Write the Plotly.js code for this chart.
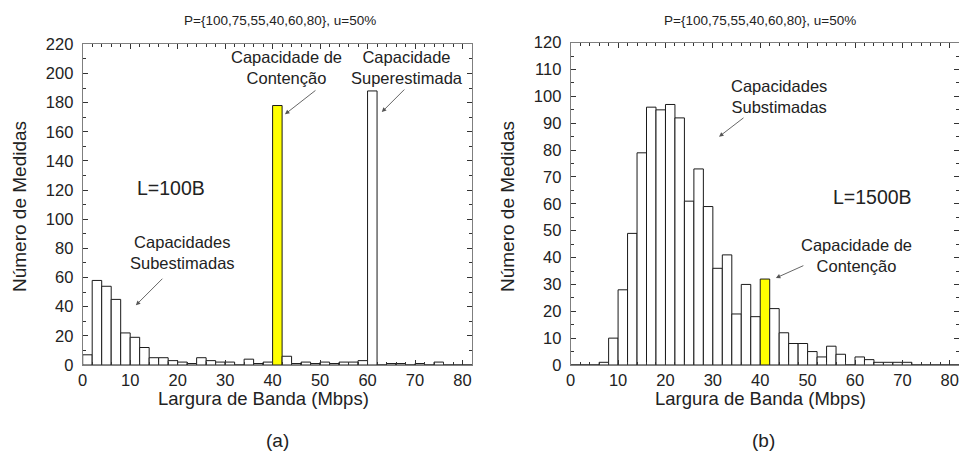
<!DOCTYPE html>
<html>
<head>
<meta charset="utf-8">
<script src="https://cdn.plot.ly/plotly-3.0.1.min.js"></script>
<style>html,body{margin:0;padding:0;background:#fff}</style>
</head>
<body>
<div id="chart" style="width:959px;height:454px"></div>
<script>
// Histogram bins: 2 Mbps wide, left edges 0..80
const binWidth = 2;
const binStarts = [0,2,4,6,8,10,12,14,16,18,20,22,24,26,28,30,32,34,36,38,40,
                   42,44,46,48,50,52,54,56,58,60,62,64,66,68,70,72,74,76,78,80];

// (a) L=100B — number of measurements per bin
const countsSmall = [7,58,54,45,22,19,12,5,5,3,2,1,5,3,2,2,0,4,1,2,178,
                     6,1,2,1,2,1,2,2,3,188,0,1,1,0,1,0,2,0,0,0];

// (b) L=1500B — number of measurements per bin
const countsLarge = [0,0,0,1,10,28,49,79,96,95,97,92,61,73,59,36,41,19,30,18,32,
                     21,12,8,8,5,3,7,4,0,3,2,1,1,1,1,0,0,0,0,0];

// bin holding the contention capacity (40 Mbps)
const contentionBin = 40;

const xTickVals = [0,10,20,30,40,50,60,70,80];
const titleText = 'P={100,75,55,40,60,80}, u=50%';
const xTitle = 'Largura de Banda (Mbps)';
const yTitle = 'Número de Medidas';

const FONT = 'Liberation Sans, Arial, Helvetica, sans-serif';
const TXT = '#222';

function barTrace(counts, xa, ya) {
  return {
    type: 'bar',
    x: binStarts.map(b => b + binWidth / 2),
    y: counts,
    width: binWidth,
    xaxis: xa, yaxis: ya,
    marker: {
      color: binStarts.map(b => b === contentionBin ? '#ffff00' : '#ffffff'),
      line: {color: '#1a1a1a', width: 1}
    },
    hoverinfo: 'skip',
    showlegend: false
  };
}

function xAxis(domain, anchor, range) {
  return {
    domain: domain, anchor: anchor, range: range,
    tickmode: 'array', tickvals: xTickVals,
    ticks: 'inside', ticklen: 5, tickcolor: '#333', tickwidth: 1,
    minor: {dtick: 2, tick0: 0, ticks: 'inside', ticklen: 3, tickcolor: '#333'},
    showline: true, linecolor: '#7f7f7f', linewidth: 1, mirror: 'allticks',
    showgrid: false, zeroline: false,
    tickfont: {family: FONT, size: 16.5, color: TXT}
  };
}

function yAxis(domain, anchor, range, dtick, minor) {
  return {
    domain: domain, anchor: anchor, range: range,
    tick0: 0, dtick: dtick,
    ticks: 'inside', ticklen: 5, tickcolor: '#333', tickwidth: 1,
    minor: {dtick: minor, tick0: 0, ticks: 'inside', ticklen: 3, tickcolor: '#333'},
    showline: true, linecolor: '#7f7f7f', linewidth: 1, mirror: 'allticks',
    showgrid: false, zeroline: false,
    ticklabelstandoff: 5,
    tickfont: {family: FONT, size: 16.5, color: TXT}
  };
}

const W = 959, H = 454;
const px = v => v / W;
const py = v => 1 - v / H;

function label(text, x, y, size) {
  return {
    xref: 'paper', yref: 'paper', x: px(x), y: py(y),
    xanchor: 'center', yanchor: 'middle', showarrow: false,
    text: text, font: {family: FONT, size: size, color: TXT}
  };
}

function arrow(xa, ya, x, y, ax, ay) {
  return {
    xref: xa, yref: ya, x: x, y: y, ax: ax, ay: ay,
    text: '', showarrow: true, arrowhead: 2, arrowsize: 1,
    arrowwidth: 0.9, arrowcolor: '#555', standoff: 0, startstandoff: 0
  };
}

const annotations = [
  label(titleText, 280, 20, 13.5),
  label(titleText, 760, 20, 13.5),
  label(xTitle, 263, 398, 18.5),
  label(xTitle, 760, 398, 18.5),
  Object.assign(label(yTitle, 19, 207, 19), {textangle: -90}),
  Object.assign(label(yTitle, 507, 207, 19), {textangle: -90}),
  label('(a)', 277, 440, 19),
  label('(b)', 763, 440, 19),

  label('Capacidade de<br>Contenção', 286, 67.5, 16.5),
  label('Capacidade<br>Superestimada', 407, 67.5, 16.5),
  label('L=100B', 170.5, 188, 19.5),
  label('Capacidades<br>Subestimadas', 182, 252, 16.5),
  arrow('x', 'y', 42.6, 172, 32, -25),
  arrow('x', 'y', 63.0, 173.5, 24, -24),
  arrow('x', 'y', 11.2, 41, 28, -28),

  label('Capacidades<br>Substimadas', 779, 96.5, 16.5),
  label('L=1500B', 872, 197, 19.5),
  label('Capacidade de<br>Contenção', 856.5, 255.5, 16.5),
  arrow('x2', 'y2', 31.3, 85, 26, -20),
  arrow('x2', 'y2', 43.3, 32.4, 29, -13)
];

const layout = {
  width: W, height: H,
  margin: {l: 0, r: 0, t: 0, b: 0},
  paper_bgcolor: '#fff', plot_bgcolor: '#fff',
  showlegend: false,
  barmode: 'overlay',
  xaxis: xAxis([82.7 / W, 472 / W], 'y', [0, 82]),
  yaxis: yAxis([1 - 365 / H, 1 - 44.3 / H], 'x', [0, 220], 20, 10),
  xaxis2: xAxis([570.7 / W, 1], 'y2', [0, 81.95]),
  yaxis2: yAxis([1 - 365 / H, 1 - 42.7 / H], 'x2', [0, 120], 10, 5),
  annotations: annotations
};

Plotly.newPlot('chart', [barTrace(countsSmall, 'x', 'y'), barTrace(countsLarge, 'x2', 'y2')],
  layout, {staticPlot: true, displayModeBar: false});
</script>
</body>
</html>
